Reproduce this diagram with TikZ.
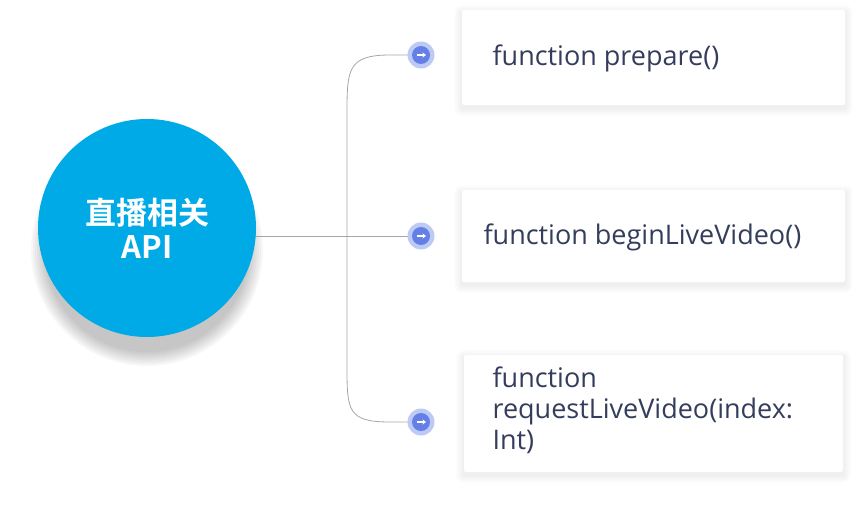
\documentclass[tikz,border=0pt]{standalone}
\usepackage{fontspec}
\setmainfont{Open Sans}
\newfontfamily\cjk{Noto Sans CJK SC}[BoldFont={Noto Sans CJK SC Bold}]
\usetikzlibrary{positioning, arrows.meta}
\definecolor{apiblue}{RGB}{0,170,230}
\definecolor{icoring}{RGB}{190,202,246}
\definecolor{icofill}{RGB}{100,128,230}
\definecolor{textgray}{RGB}{52,62,92}

\begin{document}
\begin{tikzpicture}[x=1pt, y=-1pt,
    label/.style={text=textgray, font=\fontsize{27}{31}\selectfont, align=left, anchor=west},
    ring/.style={circle, fill=icoring, minimum size=27pt, inner sep=0pt},
    dot/.style={circle, fill=icofill, minimum size=18pt, inner sep=0pt},
    link/.style={draw=black!35, line width=0.8pt}]
    \useasboundingbox (0,0) rectangle (864,506);

    % soft shadows
    \foreach \i in {1,...,8} {
        \fill[black, opacity=0.009, rounded corners=\i pt]
            (462-\i,10-\i+3) rectangle (845+\i,105+\i+3)
            (462-\i,190-\i+3) rectangle (845+\i,282+\i+3)
            (464-\i,355-\i+3) rectangle (843+\i,472+\i+3);
        \fill[black, opacity=0.03] (147,250) circle ({100+2*\i});
    }

    % cards
    \fill[white, rounded corners=2pt] (462,10) rectangle (845,105);
    \fill[white, rounded corners=2pt] (462,190) rectangle (845,282);
    \fill[white, rounded corners=2pt] (464,355) rectangle (843,472);

    % connectors
    \coordinate (top) at (421,55);
    \coordinate (mid) at (421,236);
    \coordinate (bot) at (421,422);
    \draw[link] (top) -- (390,55) .. controls (347,55) and (347,70) .. (347,115)
        -- (347,365) .. controls (347,410) and (347,422) .. (390,422) -- (bot);
    \draw[link] (250,236) -- (mid);

    % main circle
    \node[circle, fill=apiblue, minimum size=218pt, inner sep=0pt,
        text=white, align=center, font=\cjk\bfseries\fontsize{31}{34}\selectfont]
        (api) at (147,228) {直播相关\\API};

    % icons
    \foreach \p in {top, mid, bot} {
        \node[ring] (r-\p) at (\p) {};
        \node[dot] (d-\p) at (\p) {};
        \draw[white, line width=1.3pt, -{Stealth[length=3.5pt, width=5pt]}]
            ([xshift=-4.5pt]d-\p.center) -- ([xshift=5pt]d-\p.center);
    }

    % labels
    \node[label] (prep) at (489,58) {function prepare()};
    \node[label] (begin) at (480,237) {function beginLiveVideo()};
    \node[label, text width=330pt] (req) at (489,410)
        {function\\requestLiveVideo(index:\\Int)};
\end{tikzpicture}
\end{document}
